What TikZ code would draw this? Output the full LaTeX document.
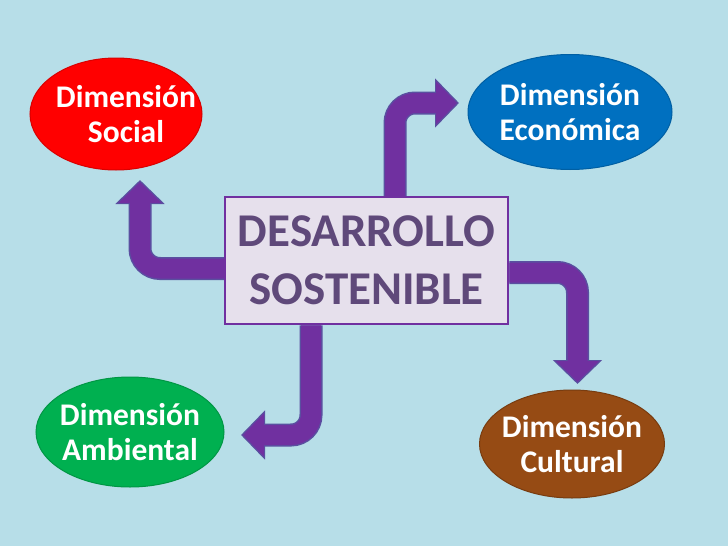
\documentclass[tikz,border=0pt]{standalone}
\usepackage{fontspec}
\setmainfont{Carlito}
\usetikzlibrary{shapes.geometric,arrows.meta}
\definecolor{fondo}{HTML}{B7DEE8}
\definecolor{morado}{HTML}{7030A0}
\definecolor{bordeflecha}{HTML}{5A4FA0}
\definecolor{lila}{HTML}{E6E0EC}
\definecolor{textolila}{HTML}{5F497A}
\definecolor{rojo}{HTML}{FF0000}
\definecolor{azul}{HTML}{0070C0}
\definecolor{verde}{HTML}{00B050}
\definecolor{cafe}{HTML}{964B14}
\pgfdeclarelayer{atras}
\pgfsetlayers{atras,main}
\tikzset{
  dimension/.style={ellipse, text=white, font=\fontsize{31.5}{35}\selectfont\bfseries,
    align=center, line width=1pt, inner xsep=-20pt, inner ysep=-10pt},
  flechaborde/.style={draw=bordeflecha, line width=23pt, rounded corners=20pt,
    shorten >=-2pt, -{Triangle[width=48pt,length=24pt]}},
  flechacuerpo/.style={draw=morado, line width=20pt, rounded corners=20pt,
    -{Triangle[width=42pt,length=21pt]}}
}

\begin{document}
\begin{tikzpicture}[x=1pt,y=-1pt]
    \useasboundingbox (0,0) rectangle (728,546);
    % centro
    \node[rectangle, fill=lila, draw=morado, line width=2.5pt, text=textolila,
      minimum width=283pt, minimum height=127pt, align=center,
      font=\fontsize{47}{58}\selectfont\bfseries] (caja) at (366.5,260.5)
      {DESARROLLO\\SOSTENIBLE};
    % dimensiones
    \node[dimension, fill=rojo, draw=rojo!85!black, minimum width=172pt, minimum height=112pt]
      (social) at (116,114) {\hspace*{20pt}Dimensión\\\hspace*{20pt}Social};
    \node[dimension, fill=azul, draw=azul!85!black, minimum width=204pt, minimum height=115pt]
      (economica) at (570,112) {Dimensión\\Económica};
    \node[dimension, fill=verde, draw=verde!85!black, minimum width=188pt, minimum height=110pt]
      (ambiental) at (130,432) {Dimensión\\Ambiental};
    \node[dimension, fill=cafe, draw=cafe!80!black, minimum width=185pt, minimum height=108pt]
      (cultural) at (572,444) {Dimensión\\Cultural};
    % puntas de las flechas
    \coordinate (puntaSocial) at (140,182);
    \coordinate (puntaEconomica) at (457,103);
    \coordinate (puntaCultural) at (577.5,382);
    \coordinate (puntaAmbiental) at (243,435);
    \begin{pgfonlayer}{atras}
      \fill[fondo] (0,0) rectangle (728,546);
      \draw[flechaborde] ([yshift=-8pt]caja.west) -| (puntaSocial);
      \draw[flechacuerpo] ([yshift=-8pt]caja.west) -| (puntaSocial);
      \draw[flechaborde] ([xshift=28.5pt]caja.north) |- (puntaEconomica);
      \draw[flechacuerpo] ([xshift=28.5pt]caja.north) |- (puntaEconomica);
      \draw[flechaborde] ([yshift=-12pt]caja.east) -| (puntaCultural);
      \draw[flechacuerpo] ([yshift=-12pt]caja.east) -| (puntaCultural);
      \draw[flechaborde] ([xshift=-55.5pt]caja.south) |- (puntaAmbiental);
      \draw[flechacuerpo] ([xshift=-55.5pt]caja.south) |- (puntaAmbiental);
    \end{pgfonlayer}
\end{tikzpicture}
\end{document}
